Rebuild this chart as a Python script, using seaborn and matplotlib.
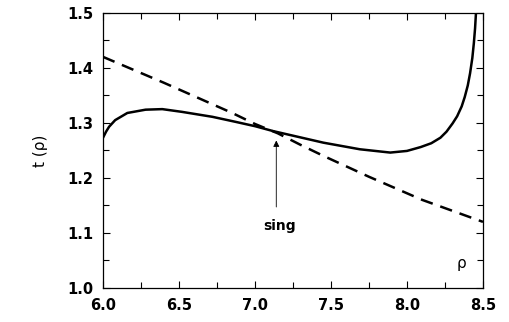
import pandas as pd
import matplotlib.pyplot as plt
import seaborn as sns

# значения
rho_solid = [6.00, 6.02, 6.04, 6.08, 6.16, 6.28, 6.39, 6.52, 6.72, 6.87, 7.00,
             7.12, 7.45, 7.69, 7.89, 8.00, 8.09, 8.16, 8.22, 8.26, 8.30, 8.33,
             8.36, 8.38, 8.40, 8.415, 8.43, 8.44, 8.448, 8.454]
t_solid = [1.273, 1.284, 1.293, 1.305, 1.318, 1.324, 1.325, 1.320, 1.311, 1.302,
           1.294, 1.285, 1.264, 1.252, 1.246, 1.249, 1.256, 1.263, 1.273, 1.284,
           1.299, 1.312, 1.330, 1.347, 1.368, 1.390, 1.418, 1.445, 1.472, 1.500]

rho_dash = [6.00, 6.40, 6.85, 7.00, 7.15, 7.30, 7.45, 7.75, 8.10, 8.50]
t_dash = [1.420, 1.373, 1.318, 1.298, 1.281, 1.260, 1.240, 1.202, 1.160, 1.120]

x_ticks = [6.0, 6.5, 7.0, 7.5, 8.0, 8.5]
y_ticks = [1.0, 1.1, 1.2, 1.3, 1.4, 1.5]

sns.set_style("ticks")
plt.rcParams['font.family'] = ['DejaVu Sans']
plt.rcParams['text.color'] = 'black'
plt.rcParams['xtick.color'] = 'black'
plt.rcParams['ytick.color'] = 'black'
plt.rcParams['axes.labelcolor'] = 'black'
plt.rcParams['axes.edgecolor'] = 'black'

fig = plt.figure(figsize=(5.1, 3.22), dpi=100)
ax = fig.add_axes([0.202, 0.106, 0.745, 0.854])

df_s = pd.DataFrame({"rho": rho_solid, "t": t_solid})
df_d = pd.DataFrame({"rho": rho_dash, "t": t_dash})
sns.lineplot(data=df_s, x="rho", y="t", ax=ax, color="black", lw=1.8, sort=False)
sns.lineplot(data=df_d, x="rho", y="t", ax=ax, color="black", lw=1.8,
             linestyle=(0, (5, 3.2)), sort=False)

ax.set_xlim(6.0, 8.5)
ax.set_ylim(1.0, 1.5)
ax.set_xticks(x_ticks)
ax.set_yticks(y_ticks)
ax.set_xticks([6.25, 6.75, 7.25, 7.75, 8.25], minor=True)
ax.set_yticks([1.05, 1.15, 1.25, 1.35, 1.45], minor=True)
ax.set_xticklabels([f"{v:.1f}" for v in x_ticks], fontweight="bold", fontsize=10.5)
ax.set_yticklabels([f"{v:.1f}" for v in y_ticks], fontweight="bold", fontsize=10.5)
ax.tick_params(which="both", direction="in", top=True, right=True, width=0.8)
ax.tick_params(which="major", length=5, pad=7)
ax.tick_params(which="minor", length=4)
for s in ax.spines.values():
    s.set_linewidth(0.9)

ax.set_xlabel("")
ax.set_ylabel("t (ρ)", fontsize=11, labelpad=14)

# стрелка "sing"
ax.annotate("", xy=(7.14, 1.273), xytext=(7.14, 1.142),
            arrowprops=dict(arrowstyle="-|>", color="black", lw=0.6,
                            mutation_scale=9))
ax.text(7.16, 1.113, "sing", ha="center", va="center", fontsize=10,
        fontweight="bold")
ax.text(8.36, 1.045, "ρ", ha="center", va="center", fontsize=11)

fig.savefig("out.png", dpi=100)
